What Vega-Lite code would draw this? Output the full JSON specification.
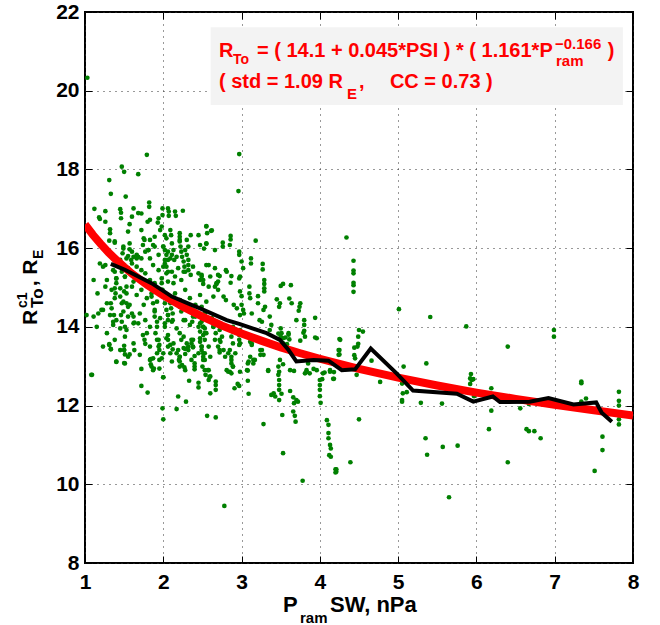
{
  "$schema": "https://vega.github.io/schema/vega-lite/v6.json",
  "width": 548,
  "height": 551,
  "autosize": {"type": "none"},
  "padding": {"left": 85, "top": 12, "right": 27, "bottom": 62},
  "background": "white",
  "config": {
    "view": {"stroke": "black", "strokeWidth": 2},
    "axis": {
      "domain": false,
      "grid": true,
      "gridColor": "#333333",
      "gridDash": [1, 5],
      "gridWidth": 1,
      "ticks": true,
      "tickColor": "black",
      "tickSize": -7,
      "tickWidth": 1,
      "labelFont": "Liberation Sans",
      "labelFontWeight": "bold",
      "labelFontSize": 21,
      "labelColor": "black",
      "labelFlush": false,
      "labelOverlap": false,
      "format": "d"
    }
  },
  "resolve": {"axis": {"x": "independent", "y": "independent"}},
  "datasets": {
    "pts": [
      {"x":1.03,"y":20.33},{"x":1.79,"y":18.37},{"x":1.47,"y":18.07},{"x":1.50,"y":17.94},{"x":1.68,"y":17.88},{"x":1.31,"y":17.73},{"x":1.33,"y":17.38},{"x":1.52,"y":17.31},{"x":1.82,"y":17.16},{"x":1.82,"y":17.05},{"x":1.12,"y":17.00},{"x":1.26,"y":16.94},{"x":1.45,"y":16.99},{"x":1.46,"y":16.90},{"x":1.46,"y":16.76},{"x":1.62,"y":17.01},{"x":1.68,"y":16.89},{"x":1.72,"y":16.88},{"x":1.18,"y":16.78},{"x":1.19,"y":16.74},{"x":1.60,"y":16.80},{"x":1.80,"y":16.67},{"x":1.83,"y":16.72},{"x":1.94,"y":16.76},{"x":1.93,"y":16.65},{"x":1.99,"y":17.01},{"x":1.99,"y":16.84},{"x":2.06,"y":17.01},{"x":2.07,"y":16.93},{"x":2.07,"y":16.82},{"x":2.15,"y":16.93},{"x":2.16,"y":16.82},{"x":2.25,"y":16.95},{"x":1.26,"y":16.67},{"x":1.32,"y":16.48},{"x":1.32,"y":16.38},{"x":1.57,"y":16.61},{"x":1.55,"y":16.42},{"x":1.72,"y":16.46},{"x":1.75,"y":16.25},{"x":1.76,"y":16.21},{"x":1.83,"y":16.21},{"x":1.89,"y":16.29},{"x":1.98,"y":16.55},{"x":1.96,"y":16.46},{"x":2.02,"y":16.33},{"x":2.04,"y":16.25},{"x":2.09,"y":16.46},{"x":2.10,"y":16.33},{"x":2.21,"y":16.38},{"x":2.21,"y":16.29},{"x":2.21,"y":16.21},{"x":2.22,"y":16.04},{"x":2.23,"y":15.91},{"x":2.30,"y":16.21},{"x":2.32,"y":16.04},{"x":2.35,"y":16.33},{"x":2.45,"y":16.33},{"x":2.55,"y":16.56},{"x":2.61,"y":16.44},{"x":2.52,"y":15.99},{"x":1.31,"y":16.19},{"x":1.38,"y":16.14},{"x":1.49,"y":15.99},{"x":1.48,"y":15.87},{"x":1.57,"y":15.97},{"x":1.55,"y":15.80},{"x":1.59,"y":15.70},{"x":1.60,"y":15.61},{"x":1.66,"y":15.83},{"x":1.68,"y":15.78},{"x":1.66,"y":15.74},{"x":1.77,"y":15.91},{"x":1.81,"y":15.95},{"x":1.89,"y":16.04},{"x":2.00,"y":16.04},{"x":2.02,"y":15.95},{"x":2.04,"y":15.83},{"x":2.06,"y":15.70},{"x":2.02,"y":15.61},{"x":2.04,"y":15.53},{"x":2.06,"y":15.40},{"x":2.13,"y":15.95},{"x":2.11,"y":15.83},{"x":2.14,"y":15.70},{"x":2.24,"y":15.78},{"x":2.26,"y":15.66},{"x":2.27,"y":15.53},{"x":2.32,"y":15.57},{"x":2.28,"y":15.40},{"x":2.35,"y":15.32},{"x":2.49,"y":15.32},{"x":2.51,"y":15.19},{"x":2.70,"y":15.32},{"x":2.68,"y":15.11},{"x":2.70,"y":14.94},{"x":1.19,"y":15.61},{"x":1.11,"y":15.19},{"x":1.16,"y":14.85},{"x":1.38,"y":15.40},{"x":1.40,"y":15.23},{"x":1.40,"y":15.11},{"x":1.38,"y":14.98},{"x":1.39,"y":14.85},{"x":1.51,"y":15.27},{"x":1.53,"y":15.02},{"x":1.50,"y":14.90},{"x":1.45,"y":14.77},{"x":1.47,"y":14.60},{"x":1.53,"y":14.60},{"x":1.55,"y":14.51},{"x":1.33,"y":14.60},{"x":1.34,"y":14.47},{"x":1.21,"y":14.43},{"x":1.37,"y":14.30},{"x":1.02,"y":14.30},{"x":1.11,"y":14.26},{"x":1.15,"y":14.00},{"x":1.17,"y":14.34},{"x":1.36,"y":14.13},{"x":1.46,"y":14.30},{"x":1.47,"y":14.13},{"x":1.51,"y":14.00},{"x":1.53,"y":13.92},{"x":1.60,"y":14.34},{"x":1.62,"y":14.26},{"x":1.63,"y":14.11},{"x":1.68,"y":14.09},{"x":1.75,"y":14.56},{"x":1.85,"y":14.77},{"x":1.87,"y":14.60},{"x":1.89,"y":14.43},{"x":1.89,"y":14.26},{"x":1.92,"y":14.13},{"x":1.98,"y":15.11},{"x":1.99,"y":14.94},{"x":2.00,"y":14.77},{"x":2.02,"y":14.60},{"x":2.04,"y":14.43},{"x":2.06,"y":14.30},{"x":2.06,"y":14.17},{"x":2.02,"y":14.00},{"x":2.10,"y":14.47},{"x":2.12,"y":14.34},{"x":2.12,"y":14.17},{"x":2.21,"y":14.68},{"x":2.21,"y":14.51},{"x":2.26,"y":14.17},{"x":2.38,"y":14.26},{"x":2.37,"y":14.13},{"x":2.45,"y":14.00},{"x":2.47,"y":13.88},{"x":2.51,"y":14.00},{"x":2.53,"y":13.84},{"x":2.47,"y":13.71},{"x":2.62,"y":14.14},{"x":2.64,"y":14.00},{"x":2.67,"y":13.84},{"x":2.72,"y":13.67},{"x":2.70,"y":13.50},{"x":1.79,"y":13.84},{"x":1.76,"y":13.67},{"x":1.77,"y":13.57},{"x":1.92,"y":14.00},{"x":1.90,"y":13.84},{"x":1.92,"y":13.67},{"x":1.94,"y":13.50},{"x":1.92,"y":13.33},{"x":2.04,"y":13.71},{"x":2.06,"y":13.50},{"x":2.09,"y":13.33},{"x":2.11,"y":13.12},{"x":2.21,"y":13.84},{"x":2.23,"y":13.67},{"x":2.26,"y":13.46},{"x":2.21,"y":13.24},{"x":2.30,"y":13.58},{"x":2.32,"y":13.41},{"x":2.36,"y":13.67},{"x":2.38,"y":13.50},{"x":2.36,"y":13.16},{"x":2.40,"y":12.99},{"x":2.49,"y":13.50},{"x":2.51,"y":13.33},{"x":2.53,"y":13.16},{"x":2.58,"y":12.90},{"x":2.60,"y":12.74},{"x":1.31,"y":13.56},{"x":1.33,"y":13.43},{"x":1.40,"y":13.12},{"x":1.51,"y":13.07},{"x":1.50,"y":13.41},{"x":1.63,"y":13.41},{"x":1.83,"y":13.16},{"x":1.85,"y":12.99},{"x":1.87,"y":12.90},{"x":1.98,"y":13.20},{"x":2.00,"y":12.72},{"x":2.20,"y":13.16},{"x":2.24,"y":13.03},{"x":2.28,"y":12.90},{"x":1.09,"y":12.78},
      {"x":1.38,"y":16.17},{"x":1.49,"y":16.04},{"x":1.57,"y":16.12},{"x":1.60,"y":15.91},{"x":1.62,"y":15.78},{"x":1.74,"y":16.08},{"x":1.81,"y":15.95},{"x":1.87,"y":16.08},{"x":1.94,"y":15.83},{"x":2.00,"y":16.04},{"x":2.06,"y":15.91},{"x":2.11,"y":16.12},{"x":2.17,"y":15.78},{"x":2.21,"y":16.17},{"x":2.28,"y":15.95},{"x":2.30,"y":15.83},{"x":2.32,"y":15.70},{"x":2.47,"y":16.08},{"x":2.55,"y":16.12},{"x":2.66,"y":15.95},{"x":1.26,"y":15.57},{"x":1.45,"y":15.70},{"x":1.53,"y":15.74},{"x":1.72,"y":15.74},{"x":1.83,"y":15.74},{"x":2.02,"y":15.70},{"x":2.09,"y":15.74},
      {"x":1.23,"y":15.53},{"x":1.36,"y":15.44},{"x":1.47,"y":15.40},{"x":1.55,"y":15.49},{"x":1.66,"y":15.53},{"x":1.72,"y":15.44},{"x":1.77,"y":15.36},{"x":1.87,"y":15.57},{"x":1.94,"y":15.44},{"x":2.00,"y":15.53},{"x":2.04,"y":15.36},{"x":2.11,"y":15.40},{"x":2.15,"y":15.28},{"x":2.19,"y":15.49},{"x":2.26,"y":15.40},{"x":2.32,"y":15.44},{"x":2.38,"y":15.53},{"x":2.45,"y":15.36},{"x":2.55,"y":15.57},{"x":2.66,"y":15.49},{"x":1.28,"y":15.19},{"x":1.40,"y":15.23},{"x":1.51,"y":15.28},{"x":1.62,"y":15.15},{"x":1.83,"y":15.19},{"x":1.89,"y":15.11},{"x":1.98,"y":15.23},{"x":2.06,"y":15.15},{"x":2.13,"y":15.11},{"x":2.23,"y":15.19},{"x":2.47,"y":15.19},{"x":2.60,"y":15.28},
      {"x":1.26,"y":15.02},{"x":1.34,"y":14.94},{"x":1.45,"y":14.98},{"x":1.53,"y":14.85},{"x":1.60,"y":15.02},{"x":1.66,"y":14.81},{"x":1.72,"y":14.94},{"x":1.79,"y":14.73},{"x":1.85,"y":14.85},{"x":1.92,"y":14.64},{"x":1.98,"y":14.94},{"x":2.04,"y":14.77},{"x":2.09,"y":14.60},{"x":2.15,"y":14.85},{"x":2.21,"y":14.68},{"x":2.28,"y":14.94},{"x":2.34,"y":14.73},{"x":2.41,"y":14.56},{"x":2.47,"y":14.81},{"x":2.55,"y":14.64},{"x":2.64,"y":14.77},{"x":1.38,"y":14.73},{"x":1.49,"y":14.64},{"x":1.57,"y":14.56},{"x":1.28,"y":14.60},
      {"x":1.23,"y":14.43},{"x":1.32,"y":14.30},{"x":1.40,"y":14.17},{"x":1.49,"y":14.39},{"x":1.55,"y":14.26},{"x":1.62,"y":14.09},{"x":1.70,"y":14.34},{"x":1.77,"y":14.17},{"x":1.83,"y":14.00},{"x":1.89,"y":14.39},{"x":1.96,"y":14.22},{"x":2.02,"y":14.09},{"x":2.06,"y":14.30},{"x":2.11,"y":14.13},{"x":2.17,"y":13.96},{"x":2.23,"y":14.39},{"x":2.28,"y":14.17},{"x":2.34,"y":14.05},{"x":2.41,"y":14.26},{"x":2.47,"y":14.09},{"x":2.53,"y":13.96},{"x":2.60,"y":14.17},{"x":2.66,"y":14.05},{"x":1.45,"y":13.96},{"x":1.36,"y":14.05},
      {"x":1.28,"y":13.84},{"x":1.38,"y":13.67},{"x":1.51,"y":13.75},{"x":1.62,"y":13.58},{"x":1.74,"y":13.79},{"x":1.83,"y":13.50},{"x":1.94,"y":13.67},{"x":2.00,"y":13.33},{"x":2.06,"y":13.79},{"x":2.13,"y":13.58},{"x":2.19,"y":13.41},{"x":2.26,"y":13.75},{"x":2.32,"y":13.50},{"x":2.38,"y":13.67},{"x":2.45,"y":13.33},{"x":2.51,"y":13.79},{"x":2.58,"y":13.50},{"x":2.66,"y":13.67},{"x":1.23,"y":13.50},{"x":1.45,"y":13.41},{"x":1.55,"y":13.24},{"x":1.70,"y":13.29},{"x":1.87,"y":13.20},{"x":2.21,"y":13.24},{"x":2.60,"y":13.24},
      {"x":2.97,"y":18.39},{"x":2.96,"y":17.45},{"x":2.55,"y":16.55},{"x":2.62,"y":16.45},{"x":2.56,"y":16.38},{"x":2.86,"y":16.31},{"x":2.86,"y":16.22},{"x":2.85,"y":16.08},{"x":2.76,"y":16.14},{"x":2.76,"y":16.04},{"x":2.55,"y":16.11},{"x":3.18,"y":16.19},{"x":2.97,"y":15.91},{"x":2.97,"y":15.83},{"x":3.00,"y":15.66},{"x":3.12,"y":15.74},{"x":3.12,"y":15.61},{"x":3.27,"y":15.60},{"x":3.27,"y":15.46},{"x":3.02,"y":15.49},{"x":2.58,"y":15.57},{"x":2.80,"y":15.44},{"x":2.81,"y":15.40},{"x":2.87,"y":15.29},{"x":2.86,"y":15.12},{"x":2.98,"y":15.28},{"x":2.97,"y":15.23},{"x":2.72,"y":15.29},{"x":2.70,"y":15.15},{"x":2.49,"y":15.28},{"x":2.51,"y":15.09},{"x":2.58,"y":15.02},{"x":2.66,"y":15.02},{"x":2.68,"y":15.09},{"x":3.29,"y":15.19},{"x":3.29,"y":15.09},{"x":3.29,"y":14.98},{"x":3.29,"y":14.90},{"x":3.10,"y":15.02},{"x":3.50,"y":15.04},{"x":3.53,"y":15.09},{"x":3.63,"y":15.06},{"x":2.77,"y":14.77},{"x":2.80,"y":14.68},{"x":2.98,"y":14.90},{"x":3.00,"y":14.78},{"x":3.10,"y":14.85},{"x":3.11,"y":14.73},{"x":3.21,"y":14.78},{"x":3.45,"y":14.70},{"x":3.49,"y":14.60},{"x":3.48,"y":14.51},{"x":3.61,"y":14.72},{"x":3.64,"y":14.60},{"x":3.75,"y":14.60},{"x":3.74,"y":14.51},{"x":3.73,"y":14.41},{"x":2.90,"y":14.56},{"x":2.94,"y":14.47},{"x":3.00,"y":14.56},{"x":3.02,"y":14.43},{"x":3.03,"y":14.34},{"x":2.98,"y":14.30},{"x":3.13,"y":14.34},{"x":3.21,"y":14.60},{"x":3.28,"y":14.43},{"x":3.30,"y":14.51},{"x":3.36,"y":14.26},{"x":3.26,"y":14.13},{"x":3.23,"y":14.17},{"x":3.38,"y":14.05},{"x":3.36,"y":13.92},{"x":3.50,"y":13.96},{"x":3.51,"y":13.84},{"x":3.53,"y":13.71},{"x":3.53,"y":13.58},{"x":3.60,"y":13.84},{"x":3.61,"y":13.68},{"x":3.58,"y":13.56},{"x":3.70,"y":14.17},{"x":3.80,"y":14.17},{"x":3.80,"y":14.05},{"x":3.80,"y":13.90},{"x":3.81,"y":13.75},{"x":3.94,"y":14.23},{"x":3.96,"y":13.71},{"x":3.75,"y":13.65},{"x":2.49,"y":14.51},{"x":2.53,"y":14.34},{"x":2.49,"y":14.13},{"x":2.51,"y":14.00},{"x":2.55,"y":13.84},{"x":2.53,"y":13.67},{"x":2.49,"y":13.50},{"x":2.53,"y":13.33},{"x":2.51,"y":13.16},{"x":2.50,"y":12.99},{"x":2.62,"y":14.22},{"x":2.66,"y":14.13},{"x":2.64,"y":14.00},{"x":2.72,"y":13.92},{"x":2.75,"y":13.75},{"x":2.73,"y":13.62},{"x":2.77,"y":13.41},{"x":2.79,"y":13.24},{"x":2.83,"y":13.33},{"x":2.87,"y":13.16},{"x":2.89,"y":12.99},{"x":2.85,"y":12.86},{"x":2.89,"y":14.00},{"x":2.89,"y":13.88},{"x":2.87,"y":13.75},{"x":2.89,"y":13.58},{"x":2.98,"y":13.92},{"x":2.97,"y":13.79},{"x":2.98,"y":13.58},{"x":3.13,"y":13.75},{"x":3.11,"y":13.62},{"x":3.13,"y":13.54},{"x":3.11,"y":13.24},{"x":3.09,"y":13.12},{"x":3.07,"y":12.90},{"x":3.26,"y":13.41},{"x":3.28,"y":13.29},{"x":3.17,"y":13.16},{"x":3.15,"y":13.07},{"x":2.98,"y":12.86},{"x":3.34,"y":12.90},{"x":3.49,"y":13.16},{"x":3.47,"y":12.99},{"x":3.48,"y":12.86},{"x":3.62,"y":12.90},{"x":3.85,"y":13.07},{"x":3.83,"y":12.90},{"x":3.87,"y":12.82},{"x":3.96,"y":12.90},{"x":4.04,"y":12.82},{"x":2.57,"y":12.90},{"x":2.59,"y":12.73},
      {"x":1.08,"y":12.78},{"x":1.31,"y":13.54},{"x":1.33,"y":13.44},{"x":1.50,"y":13.52},{"x":1.50,"y":13.41},{"x":1.51,"y":13.30},{"x":1.50,"y":13.08},{"x":1.40,"y":13.11},{"x":1.57,"y":13.30},{"x":1.72,"y":12.93},{"x":1.72,"y":12.50},{"x":1.80,"y":12.33},{"x":1.84,"y":13.18},{"x":1.84,"y":13.05},{"x":1.88,"y":12.94},{"x":1.95,"y":12.94},{"x":1.95,"y":13.16},{"x":1.95,"y":13.41},{"x":1.95,"y":13.54},{"x":2.00,"y":12.72},{"x":1.99,"y":11.93},{"x":2.00,"y":11.65},{"x":2.09,"y":13.54},{"x":2.06,"y":13.67},{"x":2.12,"y":13.43},{"x":2.17,"y":13.33},{"x":2.17,"y":11.91},{"x":2.19,"y":12.23},{"x":2.21,"y":13.12},{"x":2.21,"y":12.99},{"x":2.27,"y":12.97},{"x":2.28,"y":13.44},{"x":2.28,"y":13.31},{"x":2.29,"y":12.10},{"x":2.33,"y":12.63},{"x":2.36,"y":13.58},{"x":2.38,"y":13.48},{"x":2.40,"y":13.26},{"x":2.40,"y":13.07},{"x":2.40,"y":12.92},{"x":2.45,"y":12.58},{"x":2.45,"y":12.46},{"x":2.47,"y":13.62},{"x":2.49,"y":13.41},{"x":2.51,"y":13.24},{"x":2.53,"y":12.90},{"x":2.54,"y":12.78},{"x":2.58,"y":12.65},{"x":2.56,"y":11.74},{"x":2.60,"y":12.31},{"x":2.67,"y":12.61},{"x":2.67,"y":12.52},{"x":2.67,"y":12.40},{"x":2.67,"y":11.70},{"x":2.72,"y":13.41},{"x":2.72,"y":13.35},{"x":2.78,"y":9.45},{"x":2.81,"y":12.90},{"x":2.83,"y":12.86},{"x":2.87,"y":12.82},{"x":2.85,"y":13.41},{"x":2.87,"y":13.24},{"x":2.87,"y":13.07},{"x":2.89,"y":12.99},{"x":2.92,"y":13.33},{"x":2.91,"y":12.44},{"x":2.95,"y":12.55},{"x":2.97,"y":12.50},{"x":2.97,"y":13.67},{"x":2.97,"y":13.54},{"x":3.08,"y":13.07},{"x":3.08,"y":12.89},{"x":3.08,"y":12.63},{"x":3.09,"y":12.30},{"x":3.13,"y":13.58},{"x":3.15,"y":13.16},{"x":3.24,"y":13.41},{"x":3.24,"y":13.29},{"x":3.28,"y":11.53},{"x":3.34,"y":12.88},{"x":3.41,"y":12.31},{"x":3.38,"y":12.27},{"x":3.43,"y":12.23},{"x":3.48,"y":12.14},{"x":3.47,"y":12.78},{"x":3.48,"y":12.65},{"x":3.48,"y":12.52},{"x":3.48,"y":12.40},{"x":3.51,"y":12.30},{"x":3.53,"y":10.79},{"x":3.52,"y":11.76},{"x":3.53,"y":13.05},{"x":3.62,"y":12.37},{"x":3.66,"y":12.21},{"x":3.67,"y":12.06},{"x":3.70,"y":12.14},{"x":3.72,"y":12.10},{"x":3.66,"y":11.85},{"x":3.68,"y":11.74},{"x":3.69,"y":11.59},{"x":3.67,"y":12.88},{"x":3.78,"y":10.09},{"x":3.81,"y":12.82},{"x":3.83,"y":12.85},{"x":3.92,"y":12.93},{"x":4.00,"y":12.65},{"x":4.00,"y":12.52},{"x":4.00,"y":12.40},{"x":4.00,"y":12.24},{"x":4.01,"y":12.07},{"x":4.03,"y":12.67},{"x":4.06,"y":12.84},{"x":4.13,"y":12.86},{"x":4.17,"y":12.68},{"x":4.09,"y":11.63},{"x":4.11,"y":11.51},{"x":4.11,"y":11.30},{"x":4.11,"y":11.17},{"x":4.13,"y":11.00},{"x":4.14,"y":10.91},{"x":4.14,"y":10.70},{"x":4.12,"y":10.74},{"x":4.20,"y":10.38},{"x":4.20,"y":10.30},{"x":4.26,"y":13.67},{"x":4.24,"y":13.41},{"x":4.24,"y":13.29},{"x":3.47,"y":13.83},{"x":3.50,"y":13.75},{"x":3.56,"y":13.73},{"x":3.60,"y":13.80},{"x":3.79,"y":13.85},{"x":3.94,"y":13.73},
      {"x":4.34,"y":16.27},{"x":4.43,"y":15.68},{"x":4.43,"y":15.43},{"x":4.43,"y":15.36},{"x":4.43,"y":15.12},{"x":4.43,"y":15.06},{"x":4.43,"y":14.89},{"x":4.25,"y":13.69},{"x":4.25,"y":13.41},{"x":4.25,"y":13.30},{"x":4.50,"y":13.92},{"x":4.49,"y":13.75},{"x":4.49,"y":13.57},{"x":4.48,"y":13.50},{"x":4.44,"y":13.47},{"x":4.44,"y":13.28},{"x":4.45,"y":13.20},{"x":4.47,"y":12.78},{"x":4.55,"y":13.88},{"x":4.13,"y":12.90},{"x":4.18,"y":12.85},{"x":4.18,"y":12.68},{"x":4.50,"y":11.65},{"x":4.39,"y":10.56},{"x":4.21,"y":10.38},{"x":4.21,"y":10.32},{"x":4.66,"y":13.14},{"x":4.74,"y":12.80},{"x":4.77,"y":12.60},{"x":5.01,"y":14.45},{"x":5.07,"y":12.99},{"x":5.05,"y":12.56},{"x":5.06,"y":12.31},{"x":5.05,"y":12.14},{"x":5.05,"y":12.10},{"x":5.11,"y":12.34},{"x":5.29,"y":12.07},{"x":5.35,"y":11.17},{"x":5.37,"y":10.75},{"x":5.36,"y":13.07},{"x":5.41,"y":14.25},{"x":5.56,"y":12.05},{"x":5.57,"y":10.95},{"x":5.65,"y":9.67},{"x":5.76,"y":10.98},{"x":5.87,"y":14.01},{"x":5.93,"y":12.80},{"x":5.92,"y":12.69},{"x":5.94,"y":12.65},{"x":5.96,"y":12.67},{"x":5.92,"y":12.55},{"x":5.97,"y":12.24},{"x":6.19,"y":12.44},{"x":6.19,"y":11.87},{"x":6.16,"y":11.40},{"x":6.40,"y":13.50},{"x":6.40,"y":10.56},{"x":6.56,"y":11.93},{"x":6.67,"y":12.04},{"x":6.64,"y":11.40},{"x":6.67,"y":11.35},{"x":6.74,"y":11.35},{"x":6.82,"y":11.17},{"x":6.99,"y":13.92},{"x":6.99,"y":13.75},{"x":7.34,"y":12.61},{"x":7.34,"y":12.57},{"x":7.40,"y":12.18},{"x":7.34,"y":12.10},{"x":7.61,"y":11.21},{"x":7.61,"y":10.87},{"x":7.51,"y":10.34},{"x":7.82,"y":12.35},{"x":7.82,"y":12.12},{"x":7.82,"y":12.00},{"x":7.82,"y":11.65},{"x":7.82,"y":11.52}
    ],
    "fit": [
      {"x":1.0,"y":16.60},{"x":1.1,"y":16.34},{"x":1.2,"y":16.11},{"x":1.3,"y":15.89},{"x":1.4,"y":15.70},{"x":1.5,"y":15.52},{"x":1.6,"y":15.35},{"x":1.8,"y":15.06},{"x":2.0,"y":14.80},{"x":2.25,"y":14.51},{"x":2.5,"y":14.26},{"x":2.75,"y":14.03},{"x":3.0,"y":13.83},{"x":3.25,"y":13.65},{"x":3.5,"y":13.48},{"x":3.75,"y":13.33},{"x":4.0,"y":13.19},{"x":4.5,"y":12.93},{"x":5.0,"y":12.71},{"x":5.5,"y":12.51},{"x":6.0,"y":12.33},{"x":6.5,"y":12.17},{"x":7.0,"y":12.02},{"x":7.5,"y":11.88},{"x":8.0,"y":11.75}
    ],
    "mean": [
      {"x":1.33,"y":15.60},{"x":1.51,"y":15.45},{"x":1.85,"y":15.11},{"x":2.11,"y":14.77},{"x":2.36,"y":14.56},{"x":2.47,"y":14.47},{"x":2.81,"y":14.17},{"x":2.98,"y":14.07},{"x":3.32,"y":13.84},{"x":3.49,"y":13.67},{"x":3.60,"y":13.41},{"x":3.70,"y":13.12},{"x":3.92,"y":13.16},{"x":4.11,"y":13.14},{"x":4.28,"y":12.90},{"x":4.45,"y":12.92},{"x":4.65,"y":13.45},{"x":4.98,"y":12.82},{"x":5.19,"y":12.38},{"x":5.75,"y":12.30},{"x":5.96,"y":12.10},{"x":6.21,"y":12.23},{"x":6.30,"y":12.09},{"x":6.68,"y":12.10},{"x":6.92,"y":12.19},{"x":7.24,"y":12.03},{"x":7.53,"y":12.08},{"x":7.60,"y":11.82},{"x":7.73,"y":11.59}
    ],
    "one": [{}]
  },
  "layer": [
    {
      "data": {"name": "pts"},
      "mark": {"type": "circle", "size": 22, "color": "#008000", "opacity": 1},
      "encoding": {
        "x": {"field": "x", "type": "quantitative", "title": null, "scale": {"domain": [1, 8], "nice": false, "zero": false}, "axis": {"orient": "bottom", "values": [1,2,3,4,5,6,7,8], "labelPadding": 15, "title": null}},
        "y": {"field": "y", "type": "quantitative", "title": null, "scale": {"domain": [8, 22], "nice": false, "zero": false}, "axis": {"orient": "left", "values": [8,10,12,14,16,18,20,22], "labelPadding": 13, "title": null}}
      }
    },
    {
      "data": {"name": "fit"},
      "mark": {"type": "line", "color": "#ff0000", "strokeWidth": 8, "strokeCap": "butt", "clip": true},
      "encoding": {
        "x": {"field": "x", "type": "quantitative", "title": null, "axis": {"orient": "top", "values": [1,2,3,4,5,6,7,8], "labels": false, "grid": false, "title": null}},
        "y": {"field": "y", "type": "quantitative", "title": null, "axis": {"orient": "right", "values": [8,10,12,14,16,18,20,22], "labels": false, "grid": false, "title": null}}
      }
    },
    {
      "data": {"name": "mean"},
      "mark": {"type": "line", "color": "#000000", "strokeWidth": 4, "strokeJoin": "miter"},
      "encoding": {
        "x": {"field": "x", "type": "quantitative", "axis": null},
        "y": {"field": "y", "type": "quantitative", "axis": null}
      }
    },
    {
      "data": {"name": "one"},
      "mark": {"type": "rect", "color": "#f3f3f3"},
      "encoding": {
        "x": {"datum": 2.605, "type": "quantitative", "axis": null},
        "x2": {"datum": 7.871},
        "y": {"datum": 21.611, "type": "quantitative", "axis": null},
        "y2": {"datum": 19.637}
      }
    },
    {
      "data": {"name": "one"},
      "mark": {"type": "text", "text": "R", "font": "Liberation Sans", "fontWeight": "bold", "fontSize": 20, "color": "#ff0000", "align": "left", "baseline": "alphabetic"},
      "encoding": {"x": {"datum": 2.711, "type": "quantitative", "axis": null}, "y": {"datum": 20.85, "type": "quantitative", "axis": null}}
    },
    {
      "data": {"name": "one"},
      "mark": {"type": "text", "text": "To", "font": "Liberation Sans", "fontWeight": "bold", "fontSize": 14, "color": "#ff0000", "align": "left", "baseline": "alphabetic"},
      "encoding": {"x": {"datum": 2.890, "type": "quantitative", "axis": null}, "y": {"datum": 20.68, "type": "quantitative", "axis": null}}
    },
    {
      "data": {"name": "one"},
      "mark": {"type": "text", "text": "= ( 14.1 + 0.045*PSI ) * ( 1.161*P", "font": "Liberation Sans", "fontWeight": "bold", "fontSize": 20, "color": "#ff0000", "align": "left", "baseline": "alphabetic"},
      "encoding": {"x": {"datum": 3.197, "type": "quantitative", "axis": null}, "y": {"datum": 20.85, "type": "quantitative", "axis": null}}
    },
    {
      "data": {"name": "one"},
      "mark": {"type": "text", "text": "−0.166", "font": "Liberation Sans", "fontWeight": "bold", "fontSize": 15, "color": "#ff0000", "align": "left", "baseline": "alphabetic"},
      "encoding": {"x": {"datum": 7.003, "type": "quantitative", "axis": null}, "y": {"datum": 21.07, "type": "quantitative", "axis": null}}
    },
    {
      "data": {"name": "one"},
      "mark": {"type": "text", "text": "ram", "font": "Liberation Sans", "fontWeight": "bold", "fontSize": 15, "color": "#ff0000", "align": "left", "baseline": "alphabetic"},
      "encoding": {"x": {"datum": 7.016, "type": "quantitative", "axis": null}, "y": {"datum": 20.64, "type": "quantitative", "axis": null}}
    },
    {
      "data": {"name": "one"},
      "mark": {"type": "text", "text": ")", "font": "Liberation Sans", "fontWeight": "bold", "fontSize": 20, "color": "#ff0000", "align": "left", "baseline": "alphabetic"},
      "encoding": {"x": {"datum": 7.678, "type": "quantitative", "axis": null}, "y": {"datum": 20.85, "type": "quantitative", "axis": null}}
    },
    {
      "data": {"name": "one"},
      "mark": {"type": "text", "text": "( std = 1.09 R", "font": "Liberation Sans", "fontWeight": "bold", "fontSize": 20, "color": "#ff0000", "align": "left", "baseline": "alphabetic"},
      "encoding": {"x": {"datum": 2.711, "type": "quantitative", "axis": null}, "y": {"datum": 20.07, "type": "quantitative", "axis": null}}
    },
    {
      "data": {"name": "one"},
      "mark": {"type": "text", "text": "E", "font": "Liberation Sans", "fontWeight": "bold", "fontSize": 15, "color": "#ff0000", "align": "left", "baseline": "alphabetic"},
      "encoding": {"x": {"datum": 4.346, "type": "quantitative", "axis": null}, "y": {"datum": 19.79, "type": "quantitative", "axis": null}}
    },
    {
      "data": {"name": "one"},
      "mark": {"type": "text", "text": ",", "font": "Liberation Sans", "fontWeight": "bold", "fontSize": 20, "color": "#ff0000", "align": "left", "baseline": "alphabetic"},
      "encoding": {"x": {"datum": 4.500, "type": "quantitative", "axis": null}, "y": {"datum": 20.07, "type": "quantitative", "axis": null}}
    },
    {
      "data": {"name": "one"},
      "mark": {"type": "text", "text": "CC = 0.73 )", "font": "Liberation Sans", "fontWeight": "bold", "fontSize": 20, "color": "#ff0000", "align": "left", "baseline": "alphabetic"},
      "encoding": {"x": {"datum": 4.895, "type": "quantitative", "axis": null}, "y": {"datum": 20.07, "type": "quantitative", "axis": null}}
    },
    {
      "data": {"name": "one"},
      "mark": {"type": "text", "text": "P", "font": "Liberation Sans", "fontWeight": "bold", "fontSize": 22, "color": "black", "align": "left", "baseline": "alphabetic"},
      "encoding": {"x": {"datum": 3.529, "type": "quantitative", "axis": null}, "y": {"datum": 6.756, "type": "quantitative", "axis": null}}
    },
    {
      "data": {"name": "one"},
      "mark": {"type": "text", "text": "ram", "font": "Liberation Sans", "fontWeight": "bold", "fontSize": 15, "color": "black", "align": "left", "baseline": "alphabetic"},
      "encoding": {"x": {"datum": 3.746, "type": "quantitative", "axis": null}, "y": {"datum": 6.477, "type": "quantitative", "axis": null}}
    },
    {
      "data": {"name": "one"},
      "mark": {"type": "text", "text": "SW, nPa", "font": "Liberation Sans", "fontWeight": "bold", "fontSize": 22, "color": "black", "align": "left", "baseline": "alphabetic"},
      "encoding": {"x": {"datum": 4.129, "type": "quantitative", "axis": null}, "y": {"datum": 6.756, "type": "quantitative", "axis": null}}
    },
    {
      "data": {"name": "one"},
      "mark": {"type": "text", "text": "R", "angle": 270, "font": "Liberation Sans", "fontWeight": "bold", "fontSize": 21, "color": "black", "align": "left", "baseline": "alphabetic"},
      "encoding": {"x": {"datum": 0.383, "type": "quantitative", "axis": null}, "y": {"datum": 14.048, "type": "quantitative", "axis": null}}
    },
    {
      "data": {"name": "one"},
      "mark": {"type": "text", "text": "c1", "angle": 270, "font": "Liberation Sans", "fontWeight": "bold", "fontSize": 14, "color": "black", "align": "left", "baseline": "alphabetic"},
      "encoding": {"x": {"datum": 0.259, "type": "quantitative", "axis": null}, "y": {"datum": 14.48, "type": "quantitative", "axis": null}}
    },
    {
      "data": {"name": "one"},
      "mark": {"type": "text", "text": "To", "angle": 270, "font": "Liberation Sans", "fontWeight": "bold", "fontSize": 17, "color": "black", "align": "left", "baseline": "alphabetic"},
      "encoding": {"x": {"datum": 0.464, "type": "quantitative", "axis": null}, "y": {"datum": 14.48, "type": "quantitative", "axis": null}}
    },
    {
      "data": {"name": "one"},
      "mark": {"type": "text", "text": ", R", "angle": 270, "font": "Liberation Sans", "fontWeight": "bold", "fontSize": 21, "color": "black", "align": "left", "baseline": "alphabetic"},
      "encoding": {"x": {"datum": 0.383, "type": "quantitative", "axis": null}, "y": {"datum": 15.03, "type": "quantitative", "axis": null}}
    },
    {
      "data": {"name": "one"},
      "mark": {"type": "text", "text": "E", "angle": 270, "font": "Liberation Sans", "fontWeight": "bold", "fontSize": 14, "color": "black", "align": "left", "baseline": "alphabetic"},
      "encoding": {"x": {"datum": 0.464, "type": "quantitative", "axis": null}, "y": {"datum": 15.725, "type": "quantitative", "axis": null}}
    }
  ]
}
